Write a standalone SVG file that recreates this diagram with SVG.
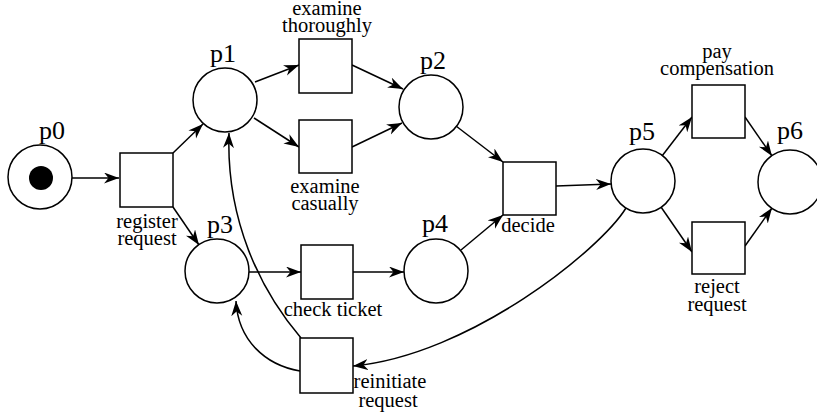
<svg xmlns="http://www.w3.org/2000/svg" width="817" height="418" viewBox="0 0 817 418">
<style>
.pl{fill:#fff;stroke:#000;stroke-width:1.5}
.tr{fill:#fff;stroke:#000;stroke-width:1.5}
.c{fill:none;stroke:#000;stroke-width:1.5;marker-end:url(#ah)}
.pt{font-size:26px;text-anchor:middle;fill:#000}
.tt{font-size:20.5px;text-anchor:middle;fill:#000}
</style>
<defs>
<marker id="ah" markerUnits="userSpaceOnUse" markerWidth="18" markerHeight="12" refX="15" refY="5.5" orient="auto">
<path d="M0,0 L15,5.5 L0,11 L4.5,5.5 z" fill="#000"/>
</marker>
</defs>
<rect width="817" height="418" fill="#fff"/>
<g id="connectors">
<path class="c" d="M72,178 L119,178"/>
<path class="c" d="M173,153 L203,124"/>
<path class="c" d="M173,207 L199,245"/>
<path class="c" d="M255,82 L299,65"/>
<path class="c" d="M254,118 L299,147"/>
<path class="c" d="M352,65 L403,89"/>
<path class="c" d="M352,147 L402,123"/>
<path class="c" d="M456,126 L503,162"/>
<path class="c" d="M249,272 L301,272"/>
<path class="c" d="M353,272 L404,272"/>
<path class="c" d="M461,250 L503,215"/>
<path class="c" d="M556,186 L611,184"/>
<path class="c" d="M662,156 L692,117"/>
<path class="c" d="M661,207 L692,252"/>
<path class="c" d="M745,117 L772,156"/>
<path class="c" d="M745,246 L772,208"/>
<path class="c" d="M301,338 C260,290 226,220 229,133"/>
<path class="c" d="M300,371 C265,365 238,340 236,301"/>
<path class="c" d="M626,208 C600,250 470,355 353,366"/>
</g>
<g font-family="'Liberation Serif', 'Times New Roman', Times, serif">
<g id="p0"><circle class="pl" cx="40" cy="177" r="32"/><circle cx="41" cy="178" r="12" fill="#000"/><text class="pt" x="52" y="139">p0</text></g>
<g id="p1"><circle class="pl" cx="225" cy="100" r="32"/><text class="pt" x="223" y="62">p1</text></g>
<g id="p2"><circle class="pl" cx="431" cy="107" r="32"/><text class="pt" x="433" y="69">p2</text></g>
<g id="p3"><circle class="pl" cx="217" cy="271" r="32"/><text class="pt" x="220" y="233">p3</text></g>
<g id="p4"><circle class="pl" cx="436" cy="271" r="32"/><text class="pt" x="435" y="232">p4</text></g>
<g id="p5"><circle class="pl" cx="643" cy="181" r="32"/><text class="pt" x="642" y="140">p5</text></g>
<g id="p6"><circle class="pl" cx="790" cy="182" r="32"/><text class="pt" x="790" y="139">p6</text></g>
<g id="t_register"><rect class="tr" x="120" y="153" width="53" height="54"/><text class="tt" x="147" y="228">register</text><text class="tt" x="147" y="245">request</text></g>
<g id="t_examine_thoroughly"><rect class="tr" x="299" y="39" width="53" height="54"/><text class="tt" x="327" y="15">examine</text><text class="tt" x="327" y="32">thoroughly</text></g>
<g id="t_examine_casually"><rect class="tr" x="299" y="120" width="53" height="53"/><text class="tt" x="325" y="193">examine</text><text class="tt" x="325" y="210">casually</text></g>
<g id="t_check_ticket"><rect class="tr" x="301" y="245" width="52" height="54"/><text class="tt" x="333" y="316">check ticket</text></g>
<g id="t_decide"><rect class="tr" x="503" y="162" width="53" height="53"/><text class="tt" x="528" y="232">decide</text></g>
<g id="t_pay"><rect class="tr" x="692" y="85" width="53" height="53"/><text class="tt" x="717" y="58">pay</text><text class="tt" x="717" y="75">compensation</text></g>
<g id="t_reject"><rect class="tr" x="692" y="222" width="53" height="52"/><text class="tt" x="717" y="293">reject</text><text class="tt" x="717" y="311">request</text></g>
<g id="t_reinitiate"><rect class="tr" x="300" y="338" width="53" height="55"/><text class="tt" x="390" y="388">reinitiate</text><text class="tt" x="388" y="407">request</text></g>
</g>
</svg>
